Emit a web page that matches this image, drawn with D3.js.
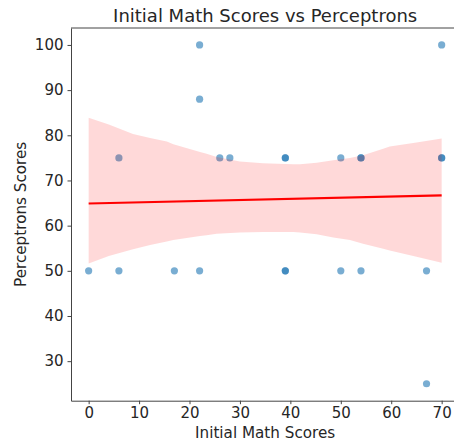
<!DOCTYPE html>
<html>
<head>
<meta charset="utf-8">
<script src="https://cdn.jsdelivr.net/npm/d3@7"></script>
<style>
  body { margin: 0; background: #fff; }
  text { font-family: "DejaVu Sans", sans-serif; fill: #262626; }
</style>
</head>
<body>
<div id="canvas"></div>
<script>
// Scatter data (x = initial math score, y = perceptrons score)
var mathScores = [0, 6, 6, 17, 22, 22, 22, 26, 28, 39, 39, 39, 39, 50, 50, 54, 54, 54, 67, 67, 70, 70, 70];
var perceptronScores = [50, 50, 75, 50, 100, 88, 50, 75, 75, 75, 75, 50, 50, 75, 50, 75, 75, 50, 50, 25, 100, 75, 75];

// Regression line ends
var fitX = [0, 70];
var fitY = [64.9, 66.7];

// Confidence band
var bandX = [0, 4, 8.8, 12.2, 15.5, 16.8, 22.1, 23.4, 25.4, 30, 34.6, 40.6, 41.9, 45.2, 48.5, 51.8, 54.4, 58.4, 59.7, 65, 70];
var bandLow = [51.6, 53.3, 54.8, 55.7, 56.5, 56.8, 57.7, 57.9, 58.2, 58.5, 58.6, 58.6, 58.5, 58.1, 57.4, 56.8, 56.0, 54.9, 54.5, 53.1, 51.8];
var bandHigh = [83.9, 82.4, 80.3, 79.4, 78.6, 78.0, 76.3, 75.9, 75.2, 74.2, 73.8, 73.6, 73.6, 73.9, 74.5, 75.0, 75.6, 77.0, 77.5, 78.4, 79.3];

var xTicks = [0, 10, 20, 30, 40, 50, 60, 70];
var yTicks = [30, 40, 50, 60, 70, 80, 90, 100];

var width = 454, height = 445;
var margin = {top: 28, left: 71, bottom: 400.7};

var svg = d3.select("#canvas")
    .append("svg")
        .attr("width", width)
        .attr("height", height);

var x = d3.scaleLinear()
    .domain([-3.5, 73.5])
    .range([margin.left, margin.left + 77 * 5.043]);
var y = d3.scaleLinear()
    .domain([21.25, 103.75])
    .range([margin.bottom, margin.top]);

// Points first, band and line go on top (as in seaborn)
svg.append("g")
    .selectAll("circle")
    .data(mathScores.map((d, i) => ({x: d, y: perceptronScores[i]})))
    .join("circle")
        .attr("cx", d => x(d.x))
        .attr("cy", d => y(d.y))
        .attr("r", 3.6)
        .attr("fill", "#1f77b4")
        .attr("fill-opacity", 0.6);

var band = bandX.map((d, i) => ({x: d, lo: bandLow[i], hi: bandHigh[i]}));
svg.append("path")
    .datum(band)
    .attr("fill", "#ff0000")
    .attr("fill-opacity", 0.15)
    .attr("d", d3.area()
        .x(d => x(d.x))
        .y0(d => y(d.lo))
        .y1(d => y(d.hi)));

svg.append("path")
    .datum(fitX.map((d, i) => ({x: d, y: fitY[i]})))
    .attr("fill", "none")
    .attr("stroke", "#ff0000")
    .attr("stroke-width", 2.2)
    .attr("d", d3.line().x(d => x(d.x)).y(d => y(d.y)));

// Axes
var xAxis = svg.append("g")
    .attr("transform", "translate(0," + margin.bottom + ")")
    .call(d3.axisBottom(x).tickValues(xTicks).tickSize(3.5).tickPadding(3.5).tickSizeOuter(0));
var yAxis = svg.append("g")
    .attr("transform", "translate(" + margin.left + ",0)")
    .call(d3.axisLeft(y).tickValues(yTicks).tickSize(3.5).tickPadding(4).tickSizeOuter(0));

svg.selectAll(".domain, .tick line").attr("stroke", "#444").attr("stroke-width", 1);
svg.selectAll(".tick text").attr("font-size", 15).attr("fill", "#262626")
    .style("font-family", "DejaVu Sans, sans-serif");

// Top spine
svg.append("line")
    .attr("x1", margin.left).attr("x2", width)
    .attr("y1", margin.top).attr("y2", margin.top)
    .attr("stroke", "#444");

// Titles
svg.append("text")
    .attr("x", x(35))
    .attr("y", 22)
    .attr("text-anchor", "middle")
    .attr("font-size", 18)
    .text("Initial Math Scores vs Perceptrons");

svg.append("text")
    .attr("x", x(35))
    .attr("y", 438)
    .attr("text-anchor", "middle")
    .attr("font-size", 15.2)
    .text("Initial Math Scores");

svg.append("text")
    .attr("transform", "translate(26," + ((margin.top + margin.bottom) / 2) + ") rotate(-90)")
    .attr("text-anchor", "middle")
    .attr("font-size", 15.2)
    .text("Perceptrons Scores");
</script>
</body>
</html>
